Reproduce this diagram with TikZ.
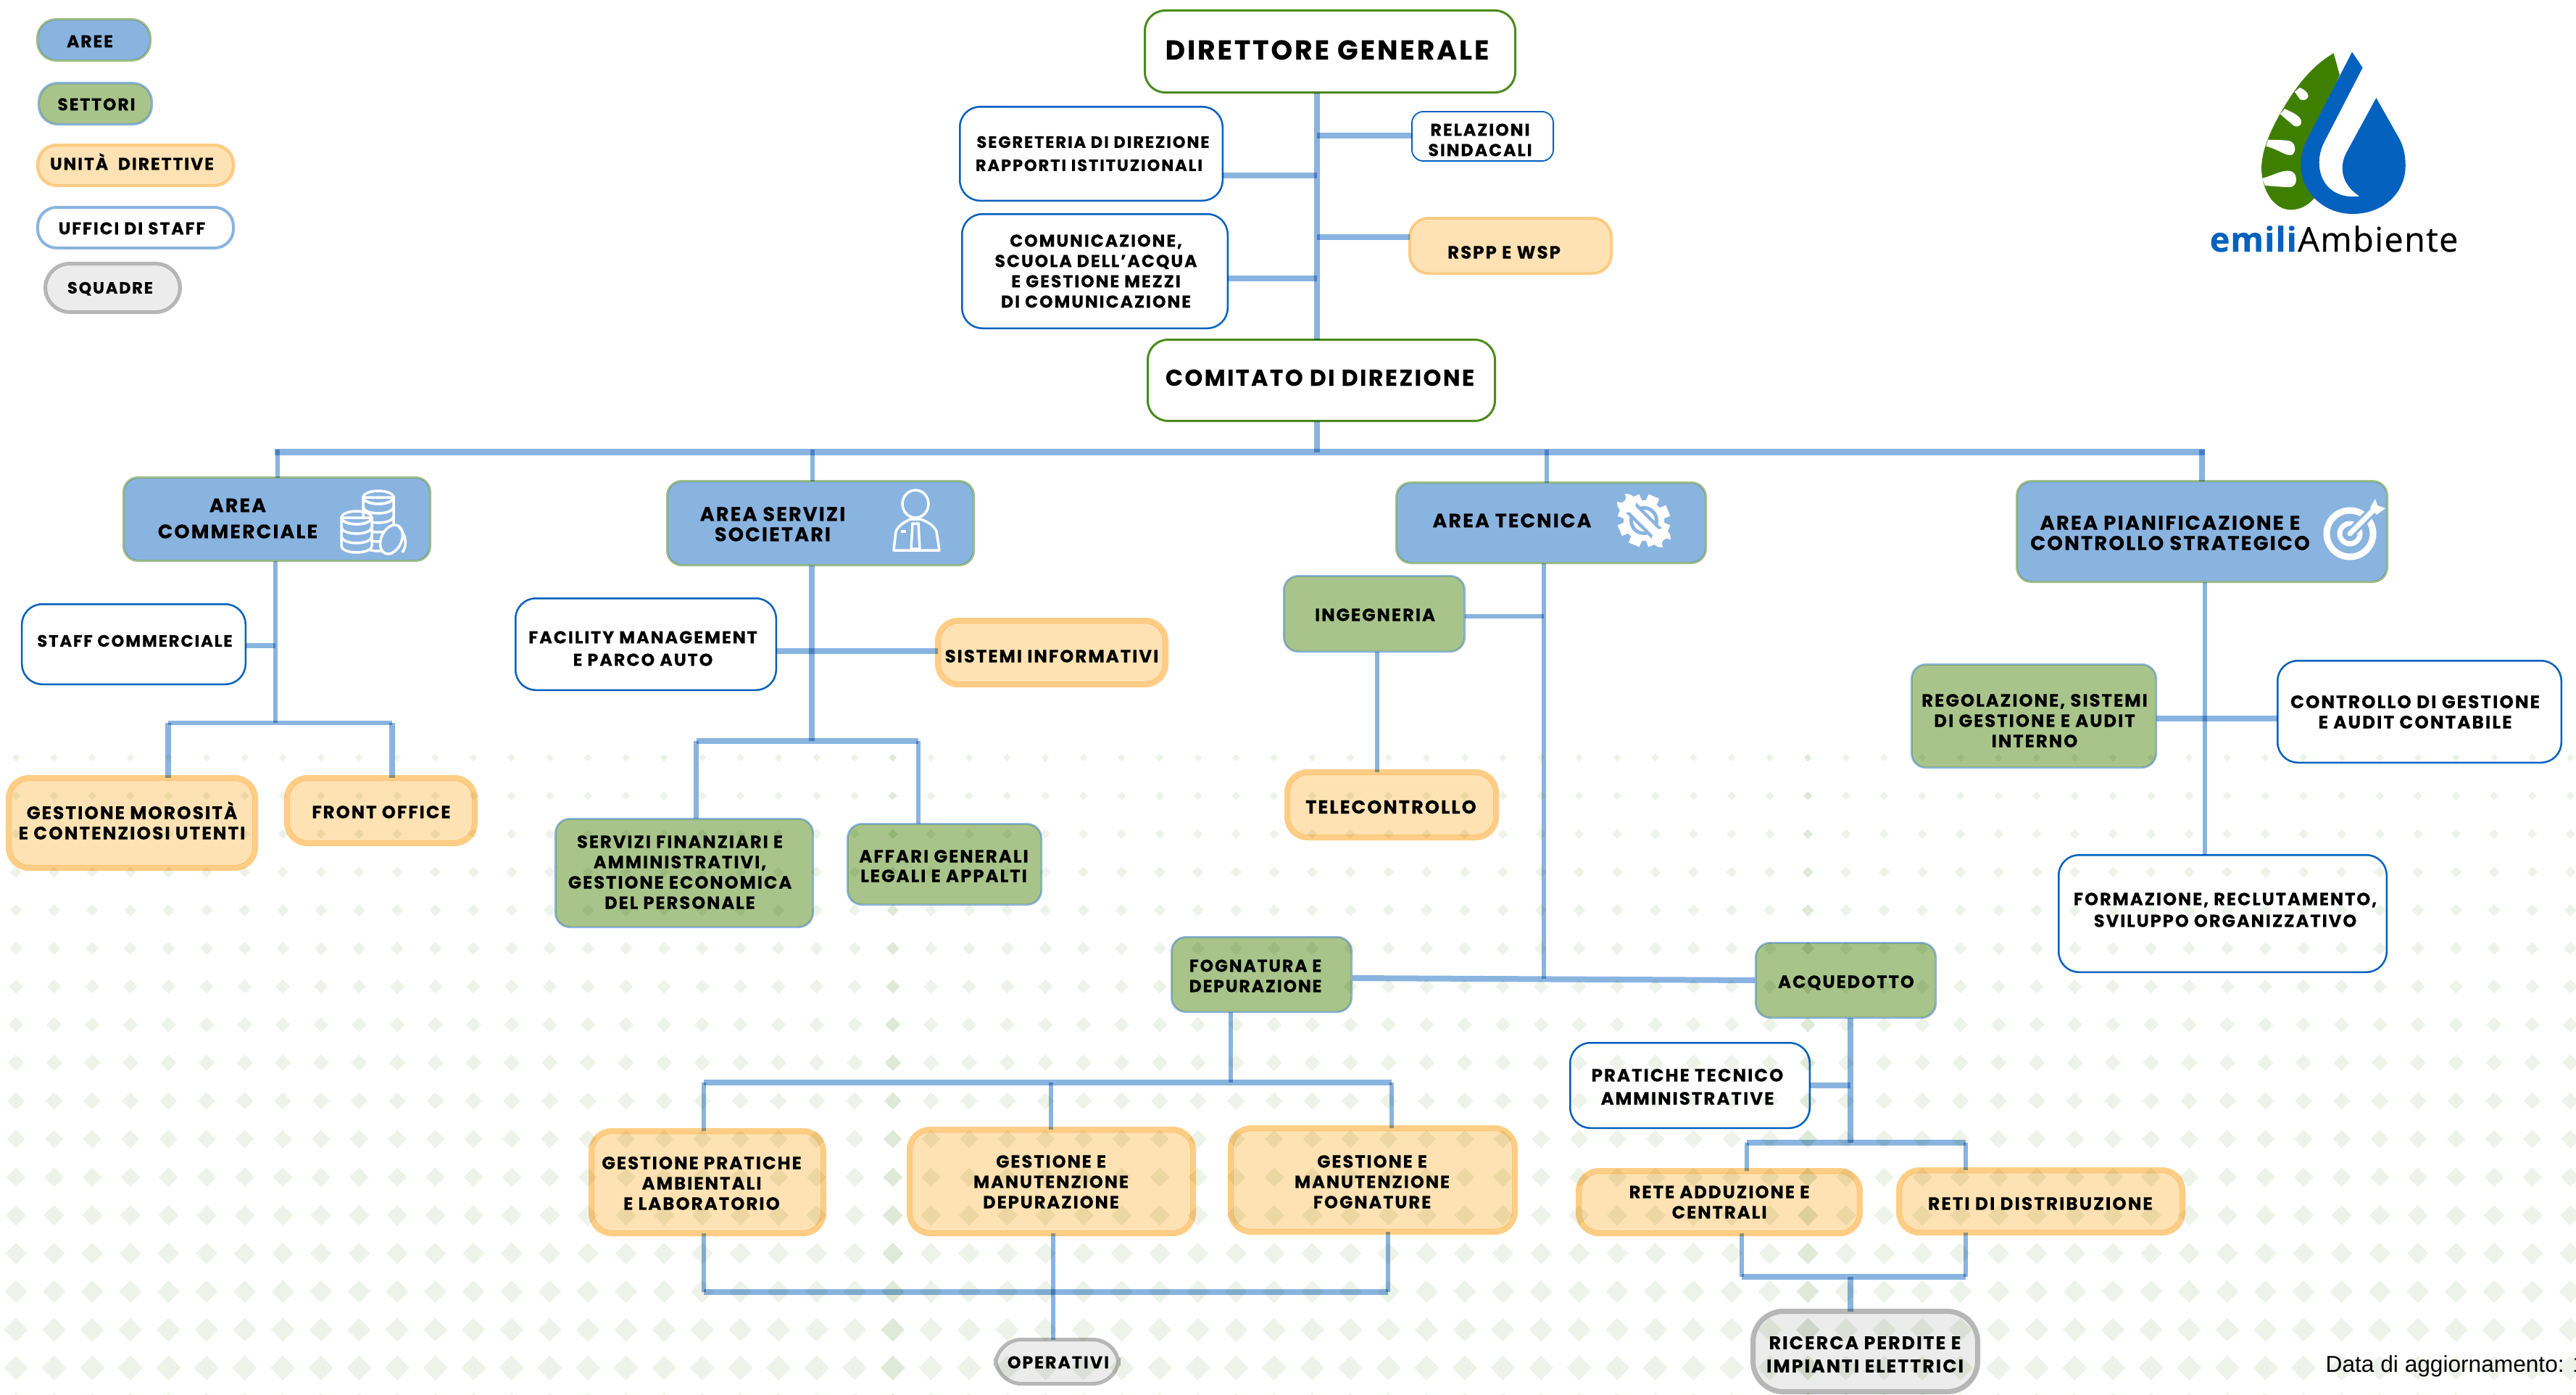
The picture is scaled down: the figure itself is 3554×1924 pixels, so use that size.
\documentclass[tikz,border=0pt]{standalone}
\usepackage{fontspec}
\setmainfont{Poppins}[BoldFeatures={LetterSpace=8,FakeBold=0.25}]
\newfontfamily\datafont{Liberation Sans}
\newfontfamily\logofont{Open Sans}[LetterSpace=3,FakeBold=0.5,BoldFeatures={LetterSpace=2,FakeBold=0.5}]
\definecolor{cblue}{HTML}{8AB4E0}
\definecolor{cgreen}{HTML}{A8C48A}
\definecolor{corange}{HTML}{FEE2B3}
\definecolor{corbd}{HTML}{FFCD85}
\definecolor{cgray}{HTML}{ECECEC}
\definecolor{cgraybd}{HTML}{B7B7B7}
\definecolor{cnavy}{HTML}{0561BE}
\definecolor{cdkgreen}{HTML}{4B8B1E}
\definecolor{cagreen}{HTML}{A0C08C}
\definecolor{cgblue}{HTML}{8AB4DC}
\definecolor{cdot}{HTML}{EDF3E9}
\definecolor{cdotd}{HTML}{DFE9D8}
\definecolor{cleaf}{HTML}{3F7F00}
\def\bxrad{20}
\tikzset{
 rad/.store in=\bxrad,
 boxbase/.style={rectangle,inner sep=0pt,outer sep=0pt,text=black},
 lead/.style={boxbase,fill=white,draw=cdkgreen,line width=0.03cm,rad=28},
 staffbox/.style={boxbase,fill=white,draw=cnavy,line width=0.025cm,rad=28},
 staffthin/.style={boxbase,fill=white,draw=cnavy,line width=0.018cm,rad=16},
 areabox/.style={boxbase,fill=cblue,draw=cagreen,line width=0.03cm,rad=20},
 sector/.style={boxbase,fill=cgreen,draw=cgblue,line width=0.025cm,rad=20},
 unitbox/.style={boxbase,fill=corange,draw=corbd,line width=0.08cm,rad=28},
 unitthin/.style={boxbase,fill=corange,draw=corbd,line width=0.035cm,rad=26},
 crew/.style={boxbase,fill=cgray,draw=cgraybd,line width=0.05cm,rad=36},
 crewwide/.style={boxbase,fill=cgray,draw=cgraybd,line width=0.07cm,rad=42},
 lgblue/.style={boxbase,fill=cblue,draw=cagreen,line width=0.03cm,rad=26},
 lggreen/.style={boxbase,fill=cgreen,draw=cgblue,line width=0.03cm,rad=26},
 lgorange/.style={boxbase,fill=corange,draw=corbd,line width=0.04cm,rad=26},
 lgwhite/.style={boxbase,fill=white,draw=cblue,line width=0.04cm,rad=26},
 lggray/.style={boxbase,fill=cgray,draw=cgraybd,line width=0.05cm,rad=34},
 conn/.style={draw=cblue,line width=0.08cm},
 connthin/.style={draw=cblue,line width=0.065cm},
 icon/.style={draw=white,line width=0.035cm,fill=none},
}
\makeatletter
\def\bx@four#1,#2,#3,#4\@nil{\def\bxa{#1}\def\bxb{#2}\def\bxc{#3}\def\bxd{#4}}
\def\bx@two#1,#2\@nil{\def\bxe{#1}\def\bxf{#2}}
\def\bx@fs#1,#2\@nil{\def\bxg{#1}\def\bxh{#2}}
% \bx{name}{style}{line width px}{x0,y0,x1,y1}{text x, y of last line}{font pt,line px}{text}
\newcommand\bx[7]{%
 \bx@four#4\@nil\bx@two#5\@nil\bx@fs#6\@nil
 {\tikzset{#2}\xdef\bxradg{\bxrad}}%
 \pgfmathsetmacro\bxW{(\bxc-\bxa-#3)*0.01}%
 \pgfmathsetmacro\bxH{(\bxd-\bxb-#3)*0.01}%
 \pgfmathsetmacro\bxX{(\bxa+\bxc)/2}%
 \pgfmathsetmacro\bxY{(\bxb+\bxd)/2}%
 \pgfmathsetmacro\bxKern{(\bxe-\bxX)*2*0.284528}%
 \pgfmathsetmacro\bxRaise{(\bxY-\bxf)*0.284528-0.35*\bxg}%
 \pgfmathsetmacro\bxLS{\bxh*0.284528}%
 \pgfmathsetmacro\bxRo{\bxradg*0.01}%
 \pgfmathsetmacro\bxRi{max(\bxradg-#3/2,1)*0.01}%
 \pgfmathsetmacro\bxIn{#3-0.4}%
 \path[#2,draw=none,rounded corners=\bxRi cm] (\bxa+\bxIn,\bxb+\bxIn) rectangle (\bxc-\bxIn,\bxd-\bxIn);
 \node[#2,fill=none,rounded corners=\bxRo cm,minimum width=\bxW cm,minimum height=\bxH cm] (#1) at (\bxX,\bxY)
 {\raisebox{\bxRaise pt}[0pt][0pt]{\makebox[0pt]{\kern\bxKern pt\fontsize{\bxg}{\bxLS}\selectfont\bfseries
 \def\arraystretch{1}\begin{tabular}[b]{@{}c@{}}#7\end{tabular}}}};%
}
\makeatother
\begin{document}
\begin{tikzpicture}[x=0.01cm,y=-0.01cm]
\useasboundingbox (0,0) rectangle (3554,1924);
\begin{scope}
\clip (0,0) rectangle (3554,1924);
\fill[white] (0,0) rectangle (3554,1924);
% background dots
\foreach \j in {0,...,17}{
 \pgfmathsetmacro\yy{1045+52.6*\j}
 \pgfmathsetmacro\ss{(10.5+0.028*(\yy-1045))/2}
 \foreach \k in {0,...,67}{
  \pgfmathsetmacro\xx{22+52.6*\k}
  \ifnum\k=23 \def\dc{cdotd}\else\ifnum\k=47 \def\dc{cdotd}\else\def\dc{cdot}\fi\fi
  \fill[\dc] (\xx-\ss,\yy) -- (\xx,\yy-\ss) -- (\xx+\ss,\yy) -- (\xx,\yy+\ss) -- cycle;
 }
}
\begin{scope}[blend mode=multiply]
% legend
\bx{lgA}{lgblue}{3}{50,25,209,85}{124,57}{6.7,20}{AREE}
\bx{lgS}{lggreen}{3}{52,113,211,173}{133,144}{6.7,20}{SETTORI}
\bx{lgU}{lgorange}{4}{50,198,324,258}{182,226}{6.7,20}{UNITÀ\ \ DIRETTIVE}
\bx{lgF}{lgwhite}{4}{50,284,324,344}{182,315}{6.7,20}{UFFICI DI STAFF}
\bx{lgQ}{lggray}{5}{60,361,251,433}{152,397}{6.4,20}{SQUADRE}
% top
\bx{dg}{lead}{3}{1578,13,2092,129}{1831,69}{10.7,30}{DIRETTORE GENERALE}
\bx{seg}{staffbox}{2.5}{1323,146,1688,278}{1508,228}{6.45,32}{SEGRETERIA DI DIREZIONE\\RAPPORTI ISTITUZIONALI\hspace*{3.2pt}}
\bx{com}{staffbox}{2.5}{1326,294,1695,454}{1512,416}{6.75,28}{COMUNICAZIONE,\\SCUOLA DELL’ACQUA\\E GESTIONE MEZZI\\DI COMUNICAZIONE}
\bx{rel}{staffthin}{1.8}{1947,153,2144,223}{2042,207}{6.75,28}{RELAZIONI\\SINDACALI}
\bx{rspp}{unitthin}{3.5}{1943,299,2225,379}{2075,348}{7,28}{RSPP E WSP}
\bx{cdd}{lead}{3}{1582,467,2064,582}{1821,521}{8.95,30}{COMITATO DI DIREZIONE}
% areas
\bx{ac}{areabox}{3}{169,657,595,775}{328,733}{7.65,36}{AREA\\COMMERCIALE}
\bx{as}{areabox}{3}{919,662,1345,781}{1066,737}{7.7,28}{AREA SERVIZI\\SOCIETARI}
\bx{at}{areabox}{3}{1925,664,2355,778}{2086,718}{7.67,28}{AREA TECNICA}
\bx{ap}{areabox}{3}{2781,662,3295,804}{2994,749}{7.8,28}{AREA PIANIFICAZIONE E\\CONTROLLO STRATEGICO}
% commerciale
\bx{stc}{staffbox}{2.5}{29,832,340,945}{186,884}{6.47,28}{STAFF COMMERCIALE}
\bx{gmo}{unitbox}{8}{8,1069,356,1201}{182,1149}{7.08,28}{GESTIONE MOROSITÀ\\E CONTENZIOSI UTENTI}
\bx{fro}{unitbox}{8}{392,1069,659,1167}{526,1120}{6.96,28}{FRONT OFFICE}
% servizi
\bx{fac}{staffbox}{2.5}{710,824,1072,953}{887,910}{6.8,31}{FACILITY MANAGEMENT\\E PARCO AUTO}
\bx{sis}{unitbox}{8}{1290,852,1612,948}{1451,905}{6.96,28}{SISTEMI INFORMATIVI}
\bx{sfa}{sector}{2.5}{765,1128,1123,1280}{938,1245}{6.9,28}{SERVIZI FINANZIARI E\\AMMINISTRATIVI,\\GESTIONE ECONOMICA\\DEL PERSONALE}
\bx{aff}{sector}{2.5}{1168,1135,1438,1249}{1302,1208}{6.97,27}{AFFARI GENERALI\\LEGALI E APPALTI}
% tecnica
\bx{ing}{sector}{2.5}{1770,793,2022,900}{1897,848}{6.93,28}{INGEGNERIA}
\bx{tel}{unitbox}{8}{1772,1061,2068,1159}{1919,1113}{7.3,28}{TELECONTROLLO}
\bx{fog}{sector}{2.5}{1615,1291,1866,1397}{1732,1360}{6.7,28}{FOGNATURA E\\DEPURAZIONE}
\bx{acq}{sector}{2.5}{2421,1299,2672,1405}{2547,1354}{6.9,28}{ACQUEDOTTO}
\bx{gpa}{unitbox}{8}{812,1556,1140,1705}{968,1660}{6.98,28}{GESTIONE PRATICHE\\AMBIENTALI\\E LABORATORIO}
\bx{gde}{unitbox}{8}{1251,1554,1650,1705}{1450,1658}{6.88,28}{GESTIONE E\\MANUTENZIONE\\DEPURAZIONE}
\bx{gfo}{unitbox}{8}{1694,1552,2094,1703}{1893,1658}{6.88,28}{GESTIONE E\\MANUTENZIONE\\FOGNATURE}
\bx{ope}{crew}{5}{1371,1845,1546,1911}{1460,1879}{6.77,28}{OPERATIVI}
\bx{pra}{staffbox}{2.5}{2165,1437,2498,1557}{2328,1515}{7,32}{PRATICHE TECNICO\\AMMINISTRATIVE}
\bx{rad}{unitbox}{8}{2174,1611,2570,1705}{2372,1672}{6.94,28}{RETE ADDUZIONE E\\CENTRALI}
\bx{rdi}{unitbox}{8}{2616,1610,3015,1704}{2815,1660}{7.06,28}{RETI DI DISTRIBUZIONE}
\bx{ric}{crewwide}{7}{2415,1805,2732,1923}{2573,1884}{7.2,32}{RICERCA PERDITE E\\IMPIANTI ELETTRICI}
% pianificazione
\bx{reg}{sector}{2.5}{2636,915,2976,1060}{2807,1022}{6.96,28}{REGOLAZIONE, SISTEMI\\DI GESTIONE E AUDIT\\INTERNO}
\bx{ctr}{staffbox}{2.5}{3141,910,3535,1053}{3332,996}{7.07,28}{CONTROLLO DI GESTIONE\\E AUDIT CONTABILE}
\bx{frm}{staffbox}{2.5}{2839,1178,3294,1342}{3070,1270}{6.88,30}{FORMAZIONE, RECLUTAMENTO,\\SVILUPPO ORGANIZZATIVO}
% junction coordinates
\coordinate (mX) at (1817,623.5);
\coordinate (busL) at (379,623.5);
\coordinate (busR) at (3042,623.5);
\coordinate (jSeg) at (1817,241.5);
\coordinate (jCom) at (1817,383.5);
\coordinate (jRel) at (1817,187);
\coordinate (jRsp) at (1817,326.5);
\coordinate (xAC) at (383,620);
\coordinate (xAS) at (1121,620);
\coordinate (xAT) at (2134,620);
\coordinate (xAP) at (3038,620);
% top connectors
\draw[conn] (mX |- dg.south) -- (mX |- cdd.north);
\draw[conn] (jSeg -| seg.east) -- (jSeg);
\draw[conn] (jCom -| com.east) -- (jCom);
\draw[conn] (jRel) -- (jRel -| rel.west);
\draw[conn] (jRsp) -- (jRsp -| rspp.west);
\draw[conn] (mX |- cdd.south) -- (mX);
\draw[draw=cblue,line width=0.09cm] (busL) -- (busR);
\draw[connthin] (xAC) -- (xAC |- ac.north);
\draw[connthin] (xAS) -- (xAS |- as.north);
\draw[connthin] (xAT) -- (xAT |- at.north);
\draw[conn] (xAP) -- (xAP |- ap.north);
% area commerciale
\coordinate (c1) at (380,997);
\coordinate (c2) at (380,890.5);
\coordinate (c3) at (232,997);
\coordinate (c4) at (541,997);
\draw[connthin] (c1 |- ac.south) -- (c1);
\draw[connthin] (c2 -| stc.east) -- (c2);
\draw[connthin] (c3) -- (c4);
\draw[conn] (c3) -- (c3 |- gmo.north);
\draw[conn] (c4) -- (c4 |- fro.north);
% area servizi
\coordinate (s1) at (1120,1022);
\coordinate (s2) at (1120,897.5);
\coordinate (s3) at (960.5,1022);
\coordinate (s4) at (1267,1022);
\draw[conn] (s1 |- as.south) -- (s1);
\draw[conn] (s2 -| fac.east) -- (s2 -| sis.west);
\draw[conn] (s3) -- (s4);
\draw[connthin] (s3) -- (s3 |- sfa.north);
\draw[connthin] (s4) -- (s4 |- aff.north);
% area tecnica
\coordinate (t1) at (2130,1350);
\coordinate (t2) at (2130,850);
\coordinate (t3) at (1900,900);
\draw[connthin] (t1 |- at.south) -- (t1);
\draw[connthin] (t2 -| ing.east) -- (t2);
\draw[connthin] (t3 |- ing.south) -- (t3 |- tel.north);
\coordinate (t4) at (1866,1349);
\coordinate (t5) at (2421,1352);
\draw[conn] (t4) -- (t5);
% fognatura
\coordinate (f1) at (1698,1493);
\coordinate (f2) at (971,1493);
\coordinate (f3) at (1450,1493);
\coordinate (f4) at (1920,1493);
\draw[connthin] (f1 |- fog.south) -- (f1);
\draw[conn] (f2) -- (f4);
\draw[connthin] (f2) -- (f2 |- gpa.north);
\draw[connthin] (f3) -- (f3 |- gde.north);
\draw[connthin] (f4) -- (f4 |- gfo.north);
\coordinate (g1) at (971,1782);
\coordinate (g2) at (1453,1782);
\coordinate (g3) at (1915,1782);
\draw[conn] (g1) -- (g3);
\draw[connthin] (g1 |- gpa.south) -- (g1);
\draw[connthin] (g2 |- gde.south) -- (g2 |- ope.north);
\draw[connthin] (g3 |- gfo.south) -- (g3);
% acquedotto
\coordinate (q1) at (2553,1576);
\coordinate (q2) at (2553,1497);
\coordinate (q3) at (2410,1576);
\coordinate (q4) at (2712,1576);
\draw[conn] (q1 |- acq.south) -- (q1);
\draw[conn] (q2 -| pra.east) -- (q2);
\draw[conn] (q3) -- (q4);
\draw[connthin] (q3) -- (q3 |- rad.north);
\draw[connthin] (q4) -- (q4 |- rdi.north);
\coordinate (q5) at (2403,1761);
\coordinate (q6) at (2712,1761);
\coordinate (q7) at (2553,1761);
\draw[conn] (q5) -- (q6);
\draw[connthin] (q5 |- rad.south) -- (q5);
\draw[connthin] (q6 |- rdi.south) -- (q6);
\draw[conn] (q7) -- (q7 |- ric.north);
% pianificazione
\coordinate (p1) at (3042,991);
\draw[connthin] (p1 |- ap.south) -- (p1 |- frm.north);
\draw[conn] (p1 -| reg.east) -- (p1 -| ctr.west);
\end{scope}
% coins icon
\foreach \cx/\top/\n in {522/686/5,492/714/3}{
 \draw[icon,fill=cblue] (\cx-21,\top) -- (\cx-21,\top+\n*13) arc[start angle=180,end angle=0,x radius=21,y radius=9] -- (\cx+21,\top) -- cycle;
 \draw[icon] (\cx,\top) ellipse (21 and 9);
 \foreach \i in {1,...,\n}{
  \draw[icon] (\cx-21,\top+\i*13-13) arc[start angle=180,end angle=0,x radius=21,y radius=9];
 }
}
\draw[icon,fill=cblue,rotate around={-25:(540,744)}] (540,744) ellipse (14 and 21);
\draw[icon] (549,725) .. controls (561,738) and (562,752) .. (555,762);
% person icon
\draw[icon] (1263,695) ellipse (18 and 19);
\draw[icon,line join=round] (1233,759) -- (1236,733) .. controls (1240,724) and (1248,720) .. (1256,716) -- (1270,716) .. controls (1280,720) and (1288,724) .. (1292,733) -- (1296,759) -- cycle;
\draw[icon] (1259,722) -- (1267,722) -- (1269,757) -- (1257,757) -- cycle;
\draw[icon] (1243,733) -- (1250,733);
% gear icon
\foreach \a in {0,45,...,315}{
 \fill[white,rotate around={\a+22.5:(2268,718)}] (2260,682) rectangle (2276,700);
}
\fill[white] (2268,718) circle (28);
\fill[cblue] (2268,718) circle (20);
\fill[white] (2268,718) circle (15);
\fill[cblue] (2268,718) circle (10);
\draw[cblue,line width=0.2cm] (2240,690) -- (2296,746);
\draw[white,line width=0.11cm] (2245,695) -- (2291,741);
\fill[white] (2244,694) circle (13);
\fill[white] (2292,742) circle (13);
\fill[cblue] (2236,686) circle (7);
\fill[cblue] (2300,750) circle (7);
% target icon
\draw[white,line width=0.09cm] (3242,736) circle (32);
\draw[white,line width=0.07cm] (3242,736) circle (14);
\draw[cblue,line width=0.14cm] (3244,734) -- (3272,706);
\draw[white,line width=0.07cm,line cap=round] (3242,736) -- (3276,702);
\fill[white] (3270,700) -- (3277,688) -- (3280,697) -- (3291,701) -- (3279,710) -- cycle;
% logo
\begin{scope}[shift={(2900,0)},xscale=0.41667,yscale=0.33333]
\fill[cleaf] (767,220) .. controls (700,270) and (650,340) .. (590,470) .. controls (545,570) and (528,640) .. (528,700) .. controls (530,790) and (570,868) .. (625,868) .. controls (660,868) and (685,845) .. (703,820) -- (660,680) -- (787,310) -- cycle;
\fill[white] (638,380) -- (655,362) .. controls (670,370) and (685,385) .. (683,400) .. controls (680,415) and (662,418) .. (655,410) -- cycle;
\fill[white] (590,472) -- (605,450) .. controls (630,465) and (660,480) .. (660,505) .. controls (660,525) and (640,530) .. (630,515) -- cycle;
\fill[white] (543,605) -- (550,578) .. controls (580,580) and (610,578) .. (625,585) .. controls (640,595) and (645,625) .. (630,640) .. controls (610,650) and (590,620) .. cycle;
\fill[white] (530,738) .. controls (570,725) and (590,705) .. (620,707) .. controls (650,710) and (650,770) .. (625,774) .. controls (600,775) and (570,770) .. (540,768) -- cycle;
\fill[cnavy] (828,215) -- (863,280) -- (735,590) .. controls (695,690) and (730,830) .. (853,812) .. controls (800,770) and (780,700) .. (810,630) -- (908,405) -- (985,575) .. controls (1000,610) and (1005,650) .. (1005,685) .. controls (1005,800) and (930,885) .. (830,885) .. controls (730,885) and (658,790) .. (658,680) .. controls (658,640) and (668,605) .. (680,575) -- cycle;
\end{scope}
\node[anchor=base west,inner sep=0pt,text=cnavy] (logoa) at (3048,347) {\logofont\fontsize{13.3}{15}\selectfont\bfseries emili};
\node[anchor=base west,inner sep=0pt,text=black] (logob) at (logoa.base east) {\logofont\fontsize{13.3}{15}\selectfont Ambiente};
% date
\node[anchor=base west,inner sep=0pt,text=black] (date) at (3208,1892) {\datafont\fontsize{9}{11}\selectfont Data di aggiornamento: 1};
\end{scope}
\end{tikzpicture}
\end{document}
